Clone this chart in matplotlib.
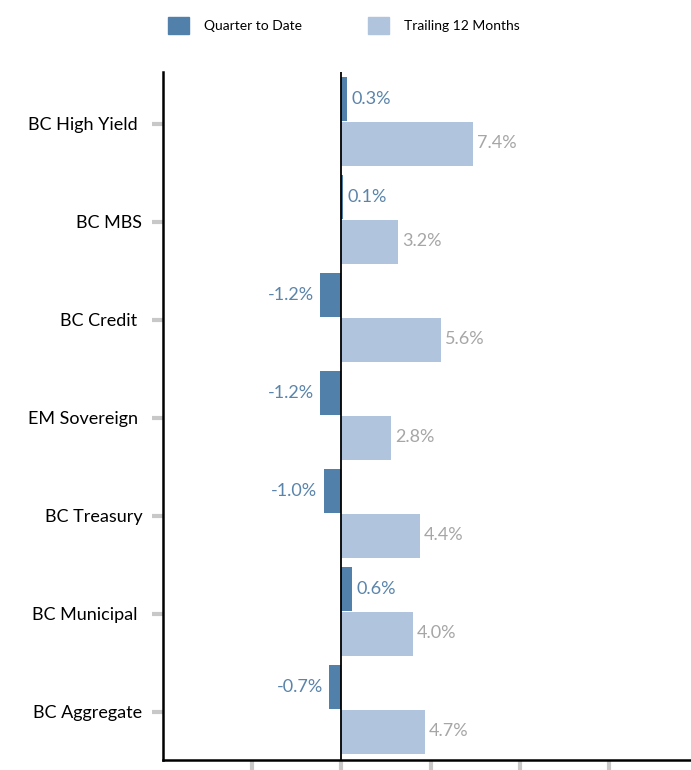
import numpy as np
import matplotlib
matplotlib.use("Agg")
import matplotlib.pyplot as plt
from matplotlib.patches import Patch

plt.rcParams['font.family'] = ['Lato', 'DejaVu Sans']

# categories, top to bottom
categories = ["BC High Yield ", "BC MBS", "BC Credit ", "EM Sovereign ",
              "BC Treasury", "BC Municipal ", "BC Aggregate"]
qtd = [0.3, 0.1, -1.2, -1.2, -1.0, 0.6, -0.7]
ttm = [7.4, 3.2, 5.6, 2.8, 4.4, 4.0, 4.7]

c_qtd = "#5180ab"
c_ttm = "#b0c4de"
c_qtd_txt = "#5a84aa"
c_ttm_txt = "#a6a6a6"

fig = plt.figure(figsize=(6.91, 7.70), dpi=100)
ax = fig.add_axes([163/691, 10/770, 1 - 163/691, 688/770])

y = np.arange(len(categories))
h = 0.45
shift = -0.03
ax.barh(y - h/2 + shift, qtd, height=h, color=c_qtd, zorder=2)
ax.barh(y + h/2 + shift + 0.01, ttm, height=h, color=c_ttm, zorder=2)

fs = 13
for yi, v in zip(y, qtd):
    if v >= 0:
        ax.text(v + 0.25, yi - h/2 + shift, f"{v:.1f}%", color=c_qtd_txt, fontsize=fs,
                ha="left", va="center")
    else:
        ax.text(v - 0.35, yi - h/2 + shift, f"{v:.1f}%", color=c_qtd_txt, fontsize=fs,
                ha="right", va="center")
for yi, v in zip(y, ttm):
    ax.text(v + 0.2, yi + h/2 + shift, f"{v:.1f}%", color=c_ttm_txt, fontsize=fs,
            ha="left", va="center")

ax.axvline(0, color="black", lw=1.3, zorder=3)

ax.set_xlim(-10, 19.6)
ax.set_ylim(len(categories) - 1 + 0.49, -0.53)
ax.set_yticks(y)
ax.set_yticklabels(categories, fontsize=fs)
ax.set_xticks([-5, 0, 5, 10, 15])
ax.set_xticklabels([])

for s in ["top", "right"]:
    ax.spines[s].set_visible(False)
ax.spines["left"].set_linewidth(1.8)
ax.spines["bottom"].set_linewidth(1.8)
ax.tick_params(axis="y", length=8, width=3, color="#c8c8c8", pad=7)
ax.tick_params(axis="x", length=10, width=3, color="#c8c8c8")

handles = [Patch(color=c_qtd, label="Quarter to Date"),
           Patch(color=c_ttm, label="Trailing 12 Months")]
fig.legend(handles=handles, loc="upper left", bbox_to_anchor=(155/691, 1 - 4/770),
           ncol=2, frameon=False, fontsize=10, handlelength=1.55, handleheight=1.55,
           handletextpad=1.1, columnspacing=4.7)

fig.savefig("out.png", dpi=100)
